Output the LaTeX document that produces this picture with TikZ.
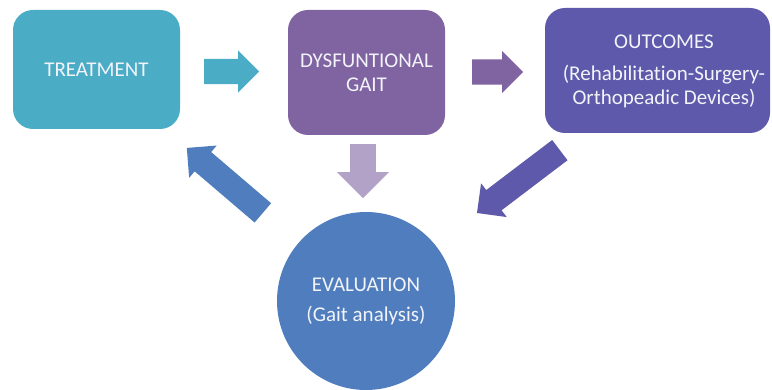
\documentclass[tikz,border=0pt]{standalone}
\usepackage{fontspec}
\setmainfont[Ligatures=NoCommon]{Carlito}
\usepackage{xcolor}
\usetikzlibrary{shapes.arrows}

\definecolor{treatteal}{HTML}{4BACC6}
\definecolor{gaitpurple}{HTML}{8064A2}
\definecolor{outviolet}{HTML}{5E59AB}
\definecolor{evalblue}{HTML}{4F7DBD}
\definecolor{lilac}{HTML}{B2A2C7}
\definecolor{paletext}{HTML}{F2F4FA}

\begin{document}
\begin{tikzpicture}[x=1pt, y=-1pt, font=\fontsize{21}{24}\selectfont,
  box/.style={rounded corners=20pt, text=paletext, align=center, inner sep=0pt},
  blockarrow/.style={single arrow, anchor=tail, inner sep=12.5pt, single arrow head extend=8.5pt,
                     minimum width=42pt}]
  \useasboundingbox (0,0) rectangle (772,390);

  % top row: treatment -> dysfunctional gait -> outcomes
  \node[box, fill=treatteal, minimum width=167pt, minimum height=119pt] (treat) at (96.5,69.5) {TREATMENT};
  \node[box, fill=gaitpurple, minimum width=157pt, minimum height=125pt] (gait) at (366.5,72.5) {DYSFUNTIONAL\\GAIT};
  \node[box, fill=outviolet, minimum width=225pt, minimum height=125pt] (outc) at (657.5,70.5) {};
  \node[text=paletext, align=center, inner sep=0pt] (outtext) at (664,71) {OUTCOMES\\[8pt](Rehabilitation-Surgery-\\Orthopeadic Devices)};

  % evaluation at the bottom
  \node[circle, fill=evalblue, minimum size=178pt, inner sep=0pt, text=paletext, align=center] (eval) at (366,301)
    {EVALUATION\\[6pt](Gait analysis)};

  % block arrows, placed by their tails
  \node[blockarrow, fill=treatteal, minimum height=55pt] (a1) at (204,71.5) {};
  \node[blockarrow, fill=gaitpurple, minimum height=51pt] (a2) at (472,72) {};
  \node[blockarrow, fill=lilac, minimum height=54pt, minimum width=52pt,
        single arrow head extend=13pt, rotate=-90] (a3) at (363,144) {};
  \node[blockarrow, fill=evalblue, minimum height=100pt, rotate=139.5] (a4) at (263,213) {};
  \node[blockarrow, fill=outviolet, minimum height=104pt, rotate=217.2] (a5) at (560,150) {};
\end{tikzpicture}
\end{document}
